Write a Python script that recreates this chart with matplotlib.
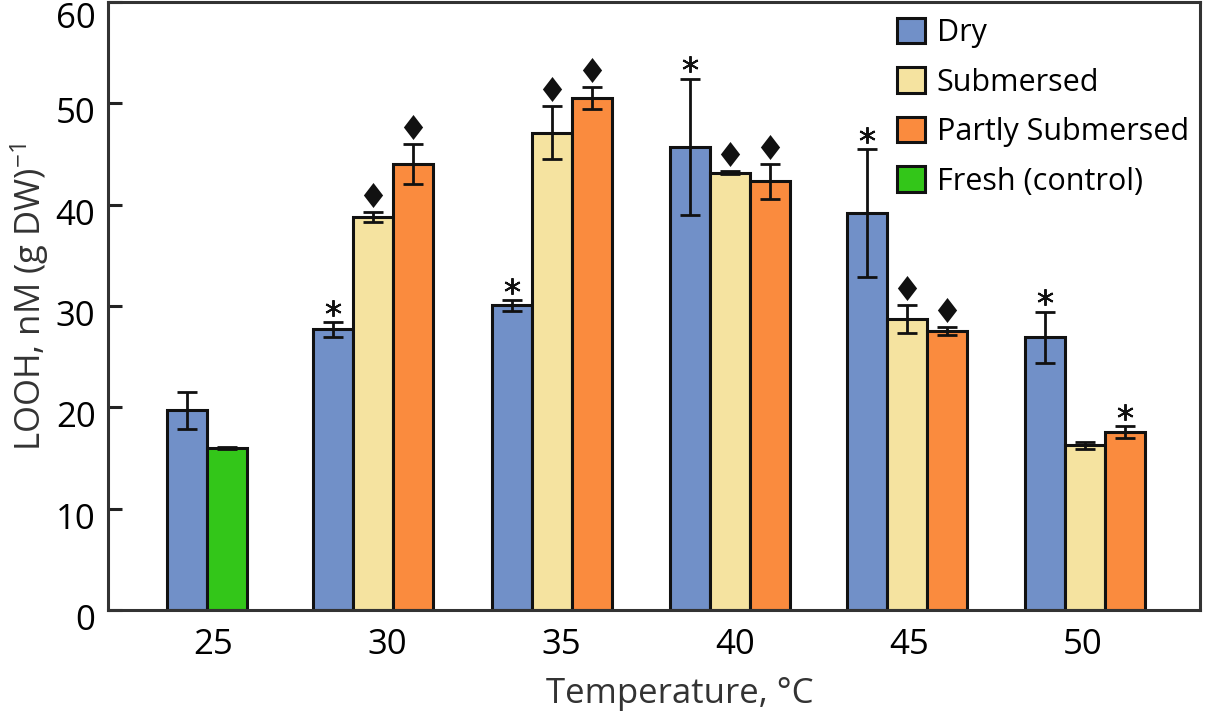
import matplotlib

matplotlib.use("Agg")
import matplotlib.pyplot as plt
from matplotlib.patches import Patch
from matplotlib.transforms import ScaledTranslation

# Values (LOOH, nM (g DW)^-1, mean ± error).
TEMPS = ["25", "30", "35", "40", "45", "50"]
DRY = [19.7, 27.7, 30.05, 45.7, 39.2, 26.9]
DRY_ERR = [1.85, 0.72, 0.55, 6.75, 6.3, 2.55]
DRY_SIG = ["", "*", "*", "*", "*", "*"]
# Submersed / partly submersed exist only from 30 °C on
SUB = [38.8, 47.1, 43.15, 28.7, 16.25]
SUB_ERR = [0.5, 2.6, 0.15, 1.37, 0.35]
SUB_SIG = ["d", "d", "d", "d", ""]
PARTLY = [44.0, 50.5, 42.3, 27.55, 17.55]
PARTLY_ERR = [2.0, 1.07, 1.7, 0.4, 0.6]
PARTLY_SIG = ["d", "d", "d", "d", "*"]
# fresh control only at 25 °C
FRESH = [16.0]
FRESH_ERR = [0.08]

BLUE, CREAM, ORANGE, GREEN = "#7190c8", "#f5e3a0", "#fa8b3e", "#33c619"

plt.rcParams["font.family"] = ["Open Sans", "DejaVu Sans"]

GROUP_X = [0.065, 1.0, 2.01, 3.01, 4.01, 5.01]
TICK_X = [0.10, 1.08, 2.06, 3.04, 4.02, 5.0]
W = 0.2254
DIAMOND = [(0, 1), (0.77, 0), (0, -1), (-0.77, 0), (0, 1)]


def bars(ax, xs, vals, errs, color):
    ax.bar(xs, vals, W, color=color, edgecolor="#111111", linewidth=2.2, zorder=2)
    ax.errorbar(xs, vals, yerr=errs, fmt="none", ecolor="#111111", elinewidth=2,
                capsize=7, capthick=2, zorder=3)


def marks(ax, xs, vals, errs, sig):
    for x, v, e, s in zip(xs, vals, errs, sig):
        if s == "*":
            ax.plot(x, v + e + 1.4, marker=(6, 2, 0), ms=12, mew=1.4, color="#111111",
                    zorder=4)
        elif s == "d":
            ax.plot(x, v + e + 1.7, marker=DIAMOND, ms=18, color="#111111", mew=0,
                    zorder=4)


fig = plt.figure(figsize=(12.05, 7.11), dpi=100)
ax = fig.add_axes([108 / 1205, 101 / 711, 1092 / 1205, 608 / 711])

dry_x = [GROUP_X[0] - W / 2] + [g - W for g in GROUP_X[1:]]
sub_x = GROUP_X[1:]
partly_x = [g + W for g in GROUP_X[1:]]
fresh_x = [GROUP_X[0] + W / 2]

bars(ax, dry_x, DRY, DRY_ERR, BLUE)
bars(ax, sub_x, SUB, SUB_ERR, CREAM)
bars(ax, partly_x, PARTLY, PARTLY_ERR, ORANGE)
bars(ax, fresh_x, FRESH, FRESH_ERR, GREEN)
marks(ax, dry_x, DRY, DRY_ERR, DRY_SIG)
marks(ax, sub_x, SUB, SUB_ERR, SUB_SIG)
marks(ax, partly_x, PARTLY, PARTLY_ERR, PARTLY_SIG)

ax.set_xlim(-0.493, 5.659)
ax.set_ylim(0, 60)
ax.set_xticks(TICK_X)
ax.set_xticklabels(TEMPS)
ax.set_yticks(range(0, 61, 10))
ax.tick_params(axis="x", length=0, pad=13, labelsize=25)
ax.tick_params(axis="y", direction="in", length=10, width=2.2, color="#222222",
               pad=9, labelsize=25)
# labels sit a little below their ticks; the top one is pushed inside the figure
fig.canvas.draw()
for lab in ax.get_yticklabels():
    dy = -0.13 if lab.get_text() == "60" else -0.07
    lab.set_transform(lab.get_transform() + ScaledTranslation(0, dy, fig.dpi_scale_trans))
for sp in ax.spines.values():
    sp.set_linewidth(2.2)
    sp.set_color("#333333")

ax.set_xlabel("Temperature, °C", fontsize=25, color="#333333")
ax.set_ylabel(r"LOOH, nM (g DW)$\mathregular{^{-1}}$", fontsize=25, color="#333333")
ax.xaxis.set_label_coords(0.524, -0.110)
ax.yaxis.set_label_coords(-0.052, 0.515)

handles = [Patch(facecolor=c, edgecolor="#111111", linewidth=2.2)
           for c in (BLUE, CREAM, ORANGE, GREEN)]
fig.legend(handles, ["Dry", "Submersed", "Partly Submersed", "Fresh (control)"],
           loc="upper left", bbox_to_anchor=(897 / 1205, 1 - 18 / 711), frameon=False,
           fontsize=22, borderpad=0, borderaxespad=0, handlelength=0.9,
           handleheight=0.9, handletextpad=0.4, labelspacing=0.63)

fig.savefig("out.png", dpi=100)
